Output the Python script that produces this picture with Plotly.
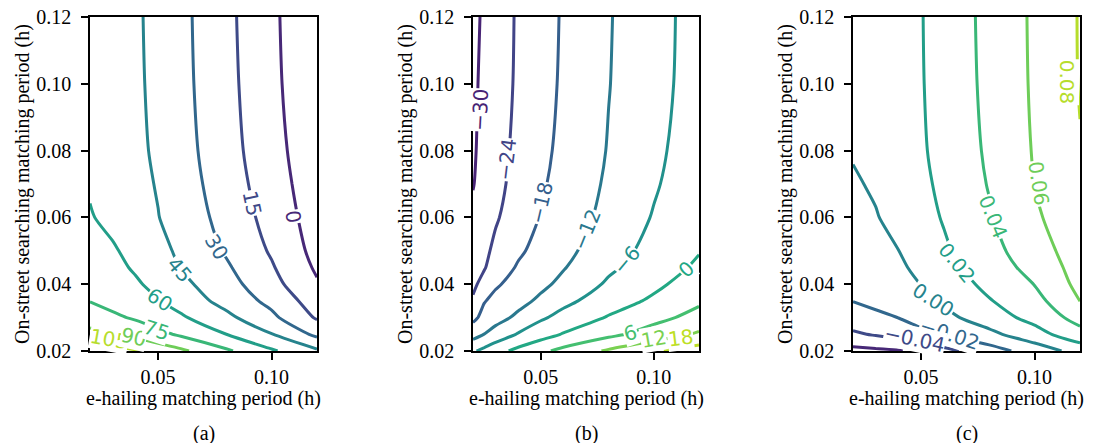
import plotly.graph_objects as go

W, H = 1094, 443

# matching-period grids (hours); panel (b) has an extra column near the left edge
ehail_ac = [0.02, 0.03, 0.04, 0.05, 0.06, 0.08, 0.10, 0.12]
ehail_b = [0.02, 0.025, 0.03, 0.04, 0.05, 0.06, 0.08, 0.10, 0.12]
street = [0.02, 0.025, 0.03, 0.035, 0.04, 0.045, 0.05, 0.06, 0.07, 0.08, 0.10, 0.12]

# panel (a) surface, one row per on-street period
z_a = [
    [117.0, 111.5, 106.4, 99.4, 92.8, 77.3, 61.9, 47.5],
    [95.0, 91.0, 85.3, 79.0, 72.7, 60.1, 45.6, 26.7],
    [82.0, 77.8, 73.2, 67.6, 62.1, 48.7, 33.3, 13.4],
    [74.6, 70.0, 65.5, 60.7, 53.9, 40.0, 26.0, 7.5],
    [72.0, 67.0, 62.0, 55.7, 48.7, 35.7, 20.0, 1.5],
    [69.2, 64.0, 58.3, 51.4, 44.5, 32.0, 16.4, -2.1],
    [66.5, 61.6, 55.6, 49.2, 42.4, 28.5, 13.4, -4.6],
    [61.0, 56.2, 50.8, 45.4, 38.8, 25.0, 9.6, -7.0],
    [58.6, 53.8, 49.3, 44.0, 37.0, 22.5, 7.2, -8.8],
    [57.0, 52.5, 48.3, 42.6, 35.6, 20.8, 5.4, -10.2],
    [55.5, 51.3, 47.6, 41.3, 34.3, 19.4, 3.6, -12.0],
    [54.5, 50.3, 47.2, 40.7, 33.8, 18.6, 2.9, -13.0],
]

# panel (b) surface
z_b = [
    [-6.7, -4.47, -2.21, 1.59, 4.72, 7.6, 12.82, 17.14, 21.0],
    [-14.3, -11.9, -9.62, -5.54, -2.46, 0.41, 4.51, 8.59, 12.8],
    [-19.5, -16.0, -14.2, -10.78, -6.83, -4.13, 0.48, 4.21, 8.0],
    [-23.3, -18.3, -16.5, -13.89, -10.85, -7.48, -2.92, 1.0, 5.0],
    [-25.2, -22.0, -18.7, -15.96, -13.34, -10.56, -5.15, -1.35, 3.1],
    [-26.2, -24.4, -21.2, -17.4, -14.87, -12.35, -7.02, -2.96, 1.0],
    [-27.0, -25.2, -22.8, -18.94, -16.07, -13.59, -8.57, -4.04, -0.3],
    [-29.0, -26.86, -24.6, -21.09, -17.7, -15.19, -10.28, -5.61, -1.5],
    [-30.23, -27.97, -25.71, -21.98, -18.72, -16.05, -11.14, -6.63, -2.31],
    [-30.61, -28.43, -26.26, -22.51, -19.4, -16.63, -11.69, -7.26, -2.94],
    [-30.89, -28.87, -26.86, -23.12, -20.07, -17.2, -12.18, -7.85, -3.64],
    [-31.28, -29.21, -27.14, -23.29, -20.32, -17.44, -12.38, -8.02, -3.8],
]

# panel (c) surface
z_c = [
    [-0.066, -0.064, -0.0615, -0.0536, -0.0457, -0.0287, -0.0108, 0.0074],
    [-0.043, -0.038, -0.0314, -0.0247, -0.0181, -0.0049, 0.0119, 0.0333],
    [-0.029, -0.0244, -0.0198, -0.0126, -0.0054, 0.01, 0.0267, 0.047],
    [-0.0195, -0.015, -0.0105, -0.0045, 0.0028, 0.0188, 0.033, 0.0603],
    [-0.0158, -0.0108, -0.0058, 0.0003, 0.0086, 0.025, 0.0405, 0.0655],
    [-0.0128, -0.0078, -0.0032, 0.0046, 0.0136, 0.0299, 0.0465, 0.068],
    [-0.0102, -0.0052, -0.0002, 0.0086, 0.0172, 0.0333, 0.0515, 0.0697],
    [-0.006, -0.0011, 0.0058, 0.0132, 0.0214, 0.0382, 0.0572, 0.0728],
    [-0.0021, 0.0023, 0.0098, 0.0158, 0.0242, 0.0411, 0.0602, 0.0762],
    [0.0015, 0.0058, 0.0108, 0.0177, 0.026, 0.0429, 0.0614, 0.0792],
    [0.0025, 0.0073, 0.0123, 0.0188, 0.0276, 0.0445, 0.0626, 0.0809],
    [0.003, 0.0078, 0.0128, 0.0192, 0.0281, 0.0452, 0.063, 0.0812],
]

levels_a = [0, 15, 30, 45, 60, 75, 90, 105]
levels_b = [-30, -24, -18, -12, -6, 0, 6, 12, 18]
levels_c = [-0.06, -0.04, -0.02, 0.00, 0.02, 0.04, 0.06, 0.08]

x_ticks = [0.05, 0.10]
y_ticks = [0.02, 0.04, 0.06, 0.08, 0.10, 0.12]

captions = ["(a)", "(b)", "(c)"]
x_title = "e-hailing matching period (h)"
y_title = "On-street searching matching period (h)"

# inline label placement: (level, x, y, angle in degrees clockwise)
labels_a = [(0, 0.1096, 0.0602, 81), (15, 0.0912, 0.0642, 78),
            (30, 0.0758, 0.0512, 60), (45, 0.0596, 0.0443, 50),
            (60, 0.0508, 0.0353, 33), (75, 0.0494, 0.0264, 18),
            (90, 0.0391, 0.0241, 12), (105, 0.0285, 0.0236, 10)]
labels_b = [(-30, 0.0231, 0.0922, -87), (-24, 0.0349, 0.0772, -83),
            (-18, 0.0504, 0.0642, -77), (-12, 0.0703, 0.0562, -68),
            (-6, 0.0880, 0.0472, -50), (0, 0.1145, 0.0445, -43),
            (6, 0.0895, 0.0253, -17), (12, 0.0998, 0.0236, -10),
            (18, 0.1116, 0.0238, -7)]
labels_c = [(-0.04, 0.0470, 0.0236, 12), (-0.02, 0.0625, 0.0252, 18),
            (0.00, 0.0554, 0.0353, 32), (0.02, 0.0657, 0.0462, 51),
            (0.04, 0.0818, 0.0602, 68), (0.06, 0.1016, 0.0702, 81),
            (0.08, 0.1140, 0.1005, 90)]

VIRIDIS = ['#440154', '#482475', '#414487', '#355f8d', '#2a788e', '#21918c',
           '#22a884', '#44bf70', '#7ad151', '#bddf26', '#fde725']


def _rgb(h):
    return [int(h[i:i + 2], 16) for i in (1, 3, 5)]


def viridis(t):
    t = min(max(t, 0.0), 1.0) * 10
    i = min(int(t), 9)
    f = t - i
    a, b = _rgb(VIRIDIS[i]), _rgb(VIRIDIS[i + 1])
    c = [round(a[k] + (b[k] - a[k]) * f) for k in range(3)]
    return "rgb({},{},{})".format(*c)


def level_color(levels, v):
    step = levels[1] - levels[0]
    lo, hi = levels[0] - step, levels[-1] + step
    return viridis((v - lo) / (hi - lo))


def fmt_int(v):
    return "{:g}".format(v).replace("-", "\u2212")


def fmt_2f(v):
    s = "{:.2f}".format(v)
    if s == "-0.00":
        s = "0.00"
    return s.replace("-", "\u2212")


panels = [
    (ehail_ac, z_a, levels_a, labels_a, fmt_int, 90, 317),
    (ehail_b, z_b, levels_b, labels_b, fmt_int, 473, 699),
    (ehail_ac, z_c, levels_c, labels_c, fmt_2f, 853, 1080),
]

TOP, BOTTOM = 17, 351
SERIF = "Liberation Serif, Times New Roman, Times, serif"
LABEL_FONT = "DejaVu Sans, Verdana, sans-serif"

fig = go.Figure()
annotations = []
layout = {}

for n, (xs, z, levels, labels, fmt, left, right) in enumerate(panels, start=1):
    sfx = "" if n == 1 else str(n)
    xa, ya = "x" + sfx, "y" + sfx
    for v in levels:
        fig.add_trace(go.Contour(
            x=xs, y=street, z=z,
            autocontour=False,
            contours=dict(start=v, end=v, size=1, coloring="none", showlabels=False),
            line=dict(color=level_color(levels, v), width=3, smoothing=0.8),
            showscale=False, hoverinfo="skip",
            xaxis=xa, yaxis=ya,
        ))
    # higher levels first so that neighbouring lower-level labels sit on top
    for v, lx, ly, ang in reversed(labels):
        annotations.append(dict(
            x=lx, y=ly, xref=xa, yref=ya, text=fmt(v), textangle=ang,
            showarrow=False, xanchor="center", yanchor="middle",
            font=dict(family=LABEL_FONT, size=20, color=level_color(levels, v)),
            bgcolor="white", borderpad=0,
        ))

    axis_common = dict(
        showline=True, linecolor="black", linewidth=1.5, mirror=True,
        ticks="outside", ticklen=7, tickwidth=1.5, tickcolor="black",
        showgrid=False, zeroline=False, range=[0.02, 0.12],
        tickfont=dict(family=SERIF, size=20, color="black"),
        tickformat=".2f", automargin=False,
    )
    layout["xaxis" + sfx] = dict(
        axis_common, domain=[left / W, right / W], anchor=ya, tickvals=x_ticks,
    )
    layout["yaxis" + sfx] = dict(
        axis_common, domain=[1 - BOTTOM / H, 1 - TOP / H], anchor=xa,
        tickvals=y_ticks, ticklabelstandoff=6,
    )

    cx = (left + right) / 2
    annotations.append(dict(
        x=cx / W, y=1 - 398 / H, xref="paper", yref="paper", text=x_title,
        showarrow=False, xanchor="center", yanchor="middle",
        font=dict(family=SERIF, size=20, color="black"),
    ))
    annotations.append(dict(
        x=cx / W, y=1 - 433 / H, xref="paper", yref="paper", text=captions[n - 1],
        showarrow=False, xanchor="center", yanchor="middle",
        font=dict(family=SERIF, size=20, color="black"),
    ))
    annotations.append(dict(
        x=(left - 68) / W, y=1 - ((TOP + BOTTOM) / 2) / H, xref="paper", yref="paper",
        text=y_title, textangle=-90,
        showarrow=False, xanchor="center", yanchor="middle",
        font=dict(family=SERIF, size=20, color="black"),
    ))

fig.update_layout(
    width=W, height=H,
    margin=dict(l=0, r=0, t=0, b=0, autoexpand=False),
    paper_bgcolor="white", plot_bgcolor="white",
    showlegend=False,
    annotations=annotations,
    **layout,
)

fig.write_html("out.html")
